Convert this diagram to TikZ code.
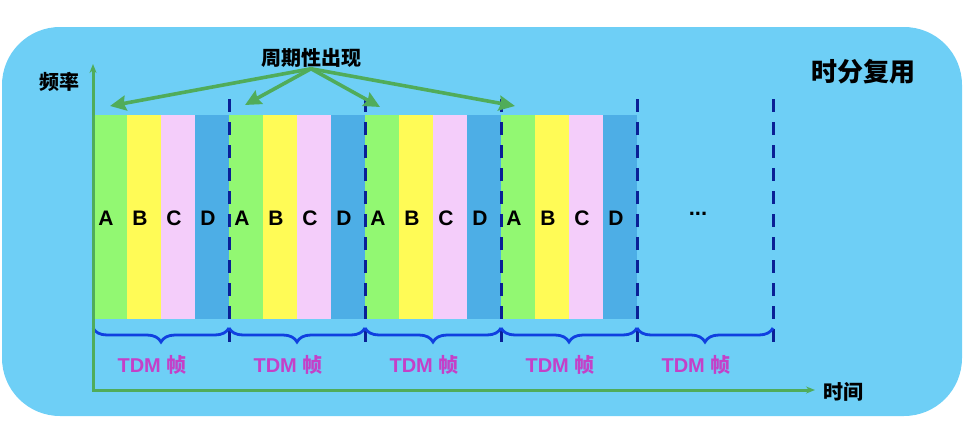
\documentclass[tikz,border=0pt]{standalone}
\usepackage{fontspec}
\setmainfont{Liberation Sans}
\newfontfamily\cjk{Noto Sans CJK SC}
\usetikzlibrary{arrows.meta,decorations.pathreplacing}
\definecolor{bgblue}{RGB}{110,207,246}
\definecolor{slotA}{RGB}{146,248,114}
\definecolor{slotB}{RGB}{255,251,86}
\definecolor{slotC}{RGB}{244,205,250}
\definecolor{slotD}{RGB}{77,174,230}
\definecolor{framedash}{RGB}{10,32,150}
\definecolor{bracecol}{RGB}{16,64,224}
\definecolor{tdmcol}{RGB}{196,64,200}
\definecolor{axisgreen}{RGB}{80,172,90}
\tikzset{
  slotlabel/.style={font=\fontsize{21}{21}\selectfont\bfseries},
  framedivider/.style={framedash, line width=3pt, dash pattern=on 13pt off 10pt},
  framebrace/.style={bracecol, line width=2.8pt, decorate, decoration={brace, amplitude=14pt, mirror}},
  framelabel/.style={tdmcol, font=\fontsize{20}{20}\selectfont\bfseries},
  cjklabel/.style={inner sep=1pt, font=\cjk\bfseries\fontsize{20}{20}\selectfont},
  axisline/.style={axisgreen, line width=3pt},
  periodarrow/.style={axisgreen, line width=3.6pt, -{Stealth[length=16pt,width=15pt,inset=2pt]}},
}
\begin{document}
\begin{tikzpicture}[x=1pt,y=-1pt]
\useasboundingbox (0,0) rectangle (964,442);
\fill[bgblue, rounded corners=58pt] (2,27) rectangle (962,416);
% time slots of four frames
\foreach \f in {0,...,3}{
  \foreach \l/\c [count=\i from 0] in {A/slotA,B/slotB,C/slotC,D/slotD}{
    \fill[\c] (93+136*\f+34*\i,115) rectangle ++(34,204);
    \node[slotlabel] (slot\f\l) at (106+136*\f+34*\i,218) {\l};
  }
}
\node[font=\fontsize{22}{22}\selectfont\bfseries] (more) at (698,214) {...};
%
\foreach \x in {229,365,501,637,773}
  \draw[framedivider] (\x,99) -- (\x,352);
\foreach \f in {0,...,4}{
  \draw[framebrace] (93+136*\f,328) -- ++(136,0);
  \node[framelabel] (tdm\f) at (152+136*\f,365) {TDM {\cjk 帧}};
}
%
\coordinate (ytip) at (93,64);
\coordinate (xtip) at (815,390);
\draw[axisline, {Stealth[length=9pt,width=7pt]}-{Stealth[length=9pt,width=7pt]}] (ytip) |- (xtip);
\node[cjklabel] (freq) at (59,82) {频率};
\node[cjklabel] (time) at (843,392) {时间};
\node[cjklabel, font=\cjk\bfseries\fontsize{26}{26}\selectfont] (title) at (863,72) {时分复用};
%
\node[cjklabel] (periodic) at (311,58) {周期性出现};
\coordinate (rep1) at (110,106);
\coordinate (rep2) at (245,105);
\coordinate (rep3) at (380,107);
\coordinate (rep4) at (515,106);
\foreach \t in {1,...,4}
  \draw[periodarrow] (periodic.south) -- (rep\t);
\end{tikzpicture}
\end{document}
